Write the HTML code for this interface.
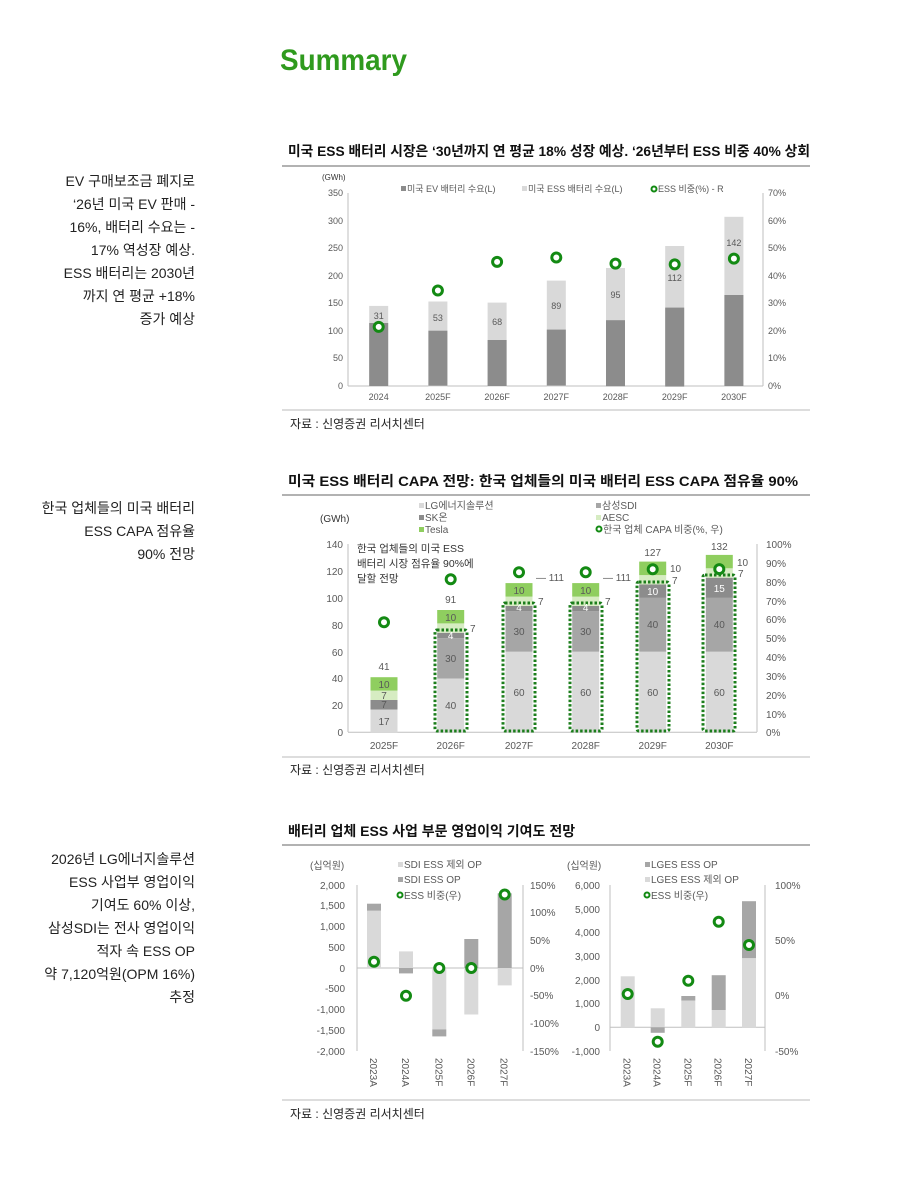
<!DOCTYPE html>
<html><head><meta charset="utf-8"><style>
body{margin:0;background:#fff}
svg{display:block;font-family:"Liberation Sans","Noto Sans CJK KR",sans-serif}
.t{font-size:10px;fill:#595959}
.s{font-size:9px;fill:#595959}
.side{font-size:14px;fill:#222;text-anchor:end}
.ttl{font-size:14px;font-weight:bold;fill:#111}
.src{font-size:12px;fill:#222}
.c{fill:#fff;stroke:#138a13;stroke-width:3}
.ax{stroke:#bfbfbf;stroke-width:1;fill:none}
</style></head><body>
<svg width="900" height="1185" viewBox="0 0 900 1185">
<text x="280" y="70" font-size="30" font-weight="bold" fill="#2f9a1e" textLength="127" lengthAdjust="spacingAndGlyphs">Summary</text>

<g class="side">
<text x="195" y="186">EV 구매보조금 폐지로</text>
<text x="195" y="209">‘26년 미국 EV 판매 -</text>
<text x="195" y="232">16%, 배터리 수요는 -</text>
<text x="195" y="255">17% 역성장 예상.</text>
<text x="195" y="278">ESS 배터리는 2030년</text>
<text x="195" y="301">까지 연 평균 +18%</text>
<text x="195" y="324">증가 예상</text>
<text x="195" y="513">한국 업체들의 미국 배터리</text>
<text x="195" y="536">ESS CAPA 점유율</text>
<text x="195" y="559">90% 전망</text>
<text x="195" y="864">2026년 LG에너지솔루션</text>
<text x="195" y="887">ESS 사업부 영업이익</text>
<text x="195" y="910">기여도 60% 이상,</text>
<text x="195" y="933">삼성SDI는 전사 영업이익</text>
<text x="195" y="956">적자 속 ESS OP</text>
<text x="195" y="979">약 7,120억원(OPM 16%)</text>
<text x="195" y="1002">추정</text>
</g>

<!-- Chart 1 -->
<text x="288" y="156" class="ttl" textLength="522" lengthAdjust="spacingAndGlyphs">미국 ESS 배터리 시장은 ‘30년까지 연 평균 18% 성장 예상. ‘26년부터 ESS 비중 40% 상회</text>
<line x1="282" y1="166" x2="810" y2="166" stroke="#999" stroke-width="1.5"/>
<text x="322" y="180" font-size="8" fill="#333">(GWh)</text>
<g class="s" text-anchor="end">
<text x="343" y="196">350</text><text x="343" y="224">300</text><text x="343" y="251">250</text><text x="343" y="279">200</text><text x="343" y="306">150</text><text x="343" y="334">100</text><text x="343" y="361">50</text><text x="343" y="389">0</text>
</g>
<g class="s">
<text x="768" y="196">70%</text><text x="768" y="224">60%</text><text x="768" y="251">50%</text><text x="768" y="279">40%</text><text x="768" y="306">30%</text><text x="768" y="334">20%</text><text x="768" y="361">10%</text><text x="768" y="389">0%</text>
</g>
<path class="ax" d="M348 193v193M348 386h415M763 193v193"/>
<g fill="#d9d9d9">
<rect x="369.2" y="305.9" width="19" height="80"/><rect x="428.4" y="301.5" width="19" height="85"/><rect x="487.6" y="302.6" width="19" height="84"/><rect x="546.8" y="280.6" width="19" height="106"/><rect x="606" y="268" width="19" height="118"/><rect x="665.2" y="246" width="19" height="140"/><rect x="724.4" y="216.8" width="19" height="170"/>
</g>
<g fill="#8c8c8c">
<rect x="369.2" y="323" width="19" height="63"/><rect x="428.4" y="330.7" width="19" height="55"/><rect x="487.6" y="340" width="19" height="46"/><rect x="546.8" y="329.6" width="19" height="56"/><rect x="606" y="320.2" width="19" height="66"/><rect x="665.2" y="307.6" width="19" height="79"/><rect x="724.4" y="295" width="19" height="91"/>
</g>
<g class="s" text-anchor="middle">
<text x="378.7" y="319">31</text><text x="437.9" y="321">53</text><text x="497.1" y="325">68</text><text x="556.3" y="309">89</text><text x="615.5" y="298">95</text><text x="674.7" y="281">112</text><text x="733.9" y="246">142</text>
<text x="378.7" y="400">2024</text><text x="437.9" y="400">2025F</text><text x="497.1" y="400">2026F</text><text x="556.3" y="400">2027F</text><text x="615.5" y="400">2028F</text><text x="674.7" y="400">2029F</text><text x="733.9" y="400">2030F</text>
</g>
<g>
<circle class="c" cx="378.7" cy="326.9" r="4.5"/><circle class="c" cx="437.9" cy="290.5" r="4.5"/><circle class="c" cx="497.1" cy="261.9" r="4.5"/><circle class="c" cx="556.3" cy="257.5" r="4.5"/><circle class="c" cx="615.5" cy="263.6" r="4.5"/><circle class="c" cx="674.7" cy="264.4" r="4.5"/><circle class="c" cx="733.9" cy="258.6" r="4.5"/>
</g>
<rect x="401" y="186" width="5" height="5" fill="#8c8c8c"/><text x="407" y="192" class="s">미국 EV 배터리 수요(L)</text>
<rect x="522" y="186" width="5" height="5" fill="#d9d9d9"/><text x="528" y="192" class="s">미국 ESS 배터리 수요(L)</text>
<circle class="c" cx="654" cy="189" r="2.5" style="stroke-width:2"/><text x="658" y="192" class="s">ESS 비중(%) - R</text>
<line x1="282" y1="410" x2="810" y2="410" stroke="#bbb"/>
<text x="290" y="428" class="src">자료 : 신영증권 리서치센터</text>

<!-- Chart 2 -->
<text x="288" y="486" class="ttl" textLength="510" lengthAdjust="spacingAndGlyphs">미국 ESS 배터리 CAPA 전망: 한국 업체들의 미국 배터리 ESS CAPA 점유율 90%</text>
<line x1="282" y1="495" x2="810" y2="495" stroke="#999" stroke-width="1.5"/>
<g class="t">
<rect x="419" y="503" width="5" height="5" fill="#d9d9d9"/><text x="425" y="509">LG에너지솔루션</text>
<rect x="419" y="515" width="5" height="5" fill="#8c8c8c"/><text x="425" y="521">SK온</text>
<rect x="419" y="527" width="5" height="5" fill="#8fce5f"/><text x="425" y="533">Tesla</text>
<rect x="596" y="503" width="5" height="5" fill="#a6a6a6"/><text x="602" y="509">삼성SDI</text>
<rect x="596" y="515" width="5" height="5" fill="#d6ecc2"/><text x="602" y="521">AESC</text>
<circle class="c" cx="599" cy="529" r="2.5" style="stroke-width:2"/><text x="603" y="533">한국 업체 CAPA 비중(%, 우)</text>
</g>
<text x="320" y="522" font-size="10" fill="#333">(GWh)</text>
<g class="t" text-anchor="end">
<text x="343" y="548">140</text><text x="343" y="575">120</text><text x="343" y="602">100</text><text x="343" y="629">80</text><text x="343" y="656">60</text><text x="343" y="682">40</text><text x="343" y="709">20</text><text x="343" y="736">0</text>
</g>
<g class="t">
<text x="766" y="548">100%</text><text x="766" y="567">90%</text><text x="766" y="586">80%</text><text x="766" y="605">70%</text><text x="766" y="623">60%</text><text x="766" y="642">50%</text><text x="766" y="661">40%</text><text x="766" y="680">30%</text><text x="766" y="699">20%</text><text x="766" y="718">10%</text><text x="766" y="736">0%</text>
</g>
<path class="ax" d="M348 544v188M348 732.3h409M757 544v188"/>
<g font-size="10.5" fill="#333"><text x="357" y="552">한국 업체들의 미국 ESS</text><text x="357" y="567">배터리 시장 점유율 90%에</text><text x="357" y="582">달할 전망</text></g>
<g>
<rect x="370.5" y="709.5" width="27" height="22.8" fill="#d9d9d9"/><rect x="370.5" y="700" width="27" height="9.5" fill="#8c8c8c"/><rect x="370.5" y="690.6" width="27" height="9.4" fill="#d6ecc2"/><rect x="370.5" y="677.2" width="27" height="13.4" fill="#8fce5f"/>
<rect x="437.2" y="678.5" width="27" height="53.8" fill="#d9d9d9"/><rect x="437.2" y="638.2" width="27" height="40.3" fill="#a6a6a6"/><rect x="437.2" y="632.8" width="27" height="5.4" fill="#8c8c8c"/><rect x="437.2" y="623.4" width="27" height="9.4" fill="#d6ecc2"/><rect x="437.2" y="610" width="27" height="13.4" fill="#8fce5f"/>
<rect x="505.5" y="651.7" width="27" height="80.6" fill="#d9d9d9"/><rect x="505.5" y="611.3" width="27" height="40.4" fill="#a6a6a6"/><rect x="505.5" y="606" width="27" height="5.3" fill="#8c8c8c"/><rect x="505.5" y="596.6" width="27" height="9.4" fill="#d6ecc2"/><rect x="505.5" y="583.1" width="27" height="13.5" fill="#8fce5f"/>
<rect x="572.2" y="651.7" width="27" height="80.6" fill="#d9d9d9"/><rect x="572.2" y="611.3" width="27" height="40.4" fill="#a6a6a6"/><rect x="572.2" y="606" width="27" height="5.3" fill="#8c8c8c"/><rect x="572.2" y="596.6" width="27" height="9.4" fill="#d6ecc2"/><rect x="572.2" y="583.1" width="27" height="13.5" fill="#8fce5f"/>
<rect x="639.2" y="651.7" width="27" height="80.6" fill="#d9d9d9"/><rect x="639.2" y="597.9" width="27" height="53.8" fill="#a6a6a6"/><rect x="639.2" y="584.5" width="27" height="13.4" fill="#8c8c8c"/><rect x="639.2" y="575.1" width="27" height="9.4" fill="#d6ecc2"/><rect x="639.2" y="561.6" width="27" height="13.5" fill="#8fce5f"/>
<rect x="705.8" y="651.7" width="27" height="80.6" fill="#d9d9d9"/><rect x="705.8" y="597.9" width="27" height="53.8" fill="#a6a6a6"/><rect x="705.8" y="577.7" width="27" height="20.2" fill="#8c8c8c"/><rect x="705.8" y="568.3" width="27" height="9.4" fill="#d6ecc2"/><rect x="705.8" y="554.9" width="27" height="13.4" fill="#8fce5f"/>
</g>
<g fill="none" stroke="#1b7d1b" stroke-width="3" stroke-dasharray="2.5 2">
<rect x="435" y="630" width="32" height="101" rx="2"/><rect x="503" y="603" width="32" height="128" rx="2"/><rect x="570" y="603" width="32" height="128" rx="2"/><rect x="637" y="582" width="32" height="149" rx="2"/><rect x="703" y="575" width="32" height="156" rx="2"/>
</g>
<g class="t" text-anchor="middle">
<text x="384" y="725">17</text><text x="384" y="708">7</text><text x="384" y="699">7</text><text x="384" y="688">10</text><text x="384" y="670">41</text>
<text x="450.7" y="709">40</text><text x="450.7" y="662">30</text><text x="450.7" y="639" fill="#fff">4</text><text x="450.7" y="621">10</text><text x="450.7" y="603">91</text>
<text x="519" y="696">60</text><text x="519" y="635">30</text><text x="519" y="611" fill="#fff">4</text><text x="519" y="594">10</text>
<text x="585.7" y="696">60</text><text x="585.7" y="635">30</text><text x="585.7" y="611" fill="#fff">4</text><text x="585.7" y="594">10</text>
<text x="652.7" y="696">60</text><text x="652.7" y="628">40</text><text x="652.7" y="595" fill="#fff">10</text><text x="652.7" y="556">127</text>
<text x="719.3" y="696">60</text><text x="719.3" y="628">40</text><text x="719.3" y="592" fill="#fff">15</text><text x="719.3" y="550">132</text>
<text x="384" y="749">2025F</text><text x="450.7" y="749">2026F</text><text x="519" y="749">2027F</text><text x="585.7" y="749">2028F</text><text x="652.7" y="749">2029F</text><text x="719.3" y="749">2030F</text>
</g>
<g class="t">
<text x="470" y="632">7</text><text x="538" y="605">7</text><text x="605" y="605">7</text><text x="672" y="584">7</text><text x="738" y="577">7</text>
<text x="536" y="581">— 111</text><text x="603" y="581">— 111</text><text x="670" y="572">10</text><text x="737" y="566">10</text>
</g>
<g>
<circle class="c" cx="384" cy="622.2" r="4.5"/><circle class="c" cx="450.7" cy="579.3" r="4.5"/><circle class="c" cx="519" cy="572.3" r="4.5"/><circle class="c" cx="585.7" cy="572.3" r="4.5"/><circle class="c" cx="652.7" cy="569.3" r="4.5"/><circle class="c" cx="719.3" cy="569.1" r="4.5"/>
</g>
<line x1="282" y1="757" x2="810" y2="757" stroke="#bbb"/>
<text x="290" y="774" class="src">자료 : 신영증권 리서치센터</text>

<!-- Chart 3 -->
<text x="288" y="836" class="ttl">배터리 업체 ESS 사업 부문 영업이익 기여도 전망</text>
<line x1="282" y1="845" x2="810" y2="845" stroke="#999" stroke-width="1.5"/>
<text x="310" y="869" class="t">(십억원)</text>
<text x="567" y="869" class="t">(십억원)</text>
<g class="t">
<rect x="398" y="862" width="5" height="5" fill="#d9d9d9"/><text x="404" y="868">SDI ESS 제외 OP</text>
<rect x="398" y="877" width="5" height="5" fill="#a6a6a6"/><text x="404" y="883">SDI ESS OP</text>
<circle class="c" cx="400" cy="895" r="2.5" style="stroke-width:2"/><text x="404" y="899">ESS 비중(우)</text>
<rect x="645" y="862" width="5" height="5" fill="#a6a6a6"/><text x="651" y="868">LGES ESS OP</text>
<rect x="645" y="877" width="5" height="5" fill="#d9d9d9"/><text x="651" y="883">LGES ESS 제외 OP</text>
<circle class="c" cx="647" cy="895" r="2.5" style="stroke-width:2"/><text x="651" y="899">ESS 비중(우)</text>
</g>
<g class="t" text-anchor="end">
<text x="345" y="889">2,000</text><text x="345" y="909">1,500</text><text x="345" y="930">1,000</text><text x="345" y="951">500</text><text x="345" y="972">0</text><text x="345" y="992">-500</text><text x="345" y="1013">-1,000</text><text x="345" y="1034">-1,500</text><text x="345" y="1055">-2,000</text>
<text x="600" y="889">6,000</text><text x="600" y="913">5,000</text><text x="600" y="936">4,000</text><text x="600" y="960">3,000</text><text x="600" y="984">2,000</text><text x="600" y="1007">1,000</text><text x="600" y="1031">0</text><text x="600" y="1055">-1,000</text>
</g>
<g class="t">
<text x="530" y="889">150%</text><text x="530" y="916">100%</text><text x="530" y="944">50%</text><text x="530" y="972">0%</text><text x="530" y="999">-50%</text><text x="530" y="1027">-100%</text><text x="530" y="1055">-150%</text>
<text x="775" y="889">100%</text><text x="775" y="944">50%</text><text x="775" y="999">0%</text><text x="775" y="1055">-50%</text>
</g>
<path class="ax" d="M357 885v166M357 968h166M523 885v166M610 885v166M610 1027.3h155M765 885v166"/>
<g>
<rect x="367" y="910.7" width="14" height="57.3" fill="#d9d9d9"/><rect x="367" y="903.7" width="14" height="7" fill="#a6a6a6"/>
<rect x="399" y="951.4" width="14" height="16.6" fill="#d9d9d9"/><rect x="399" y="968" width="14" height="5.4" fill="#a6a6a6"/>
<rect x="432.3" y="968" width="14" height="61.4" fill="#d9d9d9"/><rect x="432.3" y="1029.4" width="14" height="7" fill="#a6a6a6"/>
<rect x="464.3" y="968" width="14" height="46.5" fill="#d9d9d9"/><rect x="464.3" y="939" width="14" height="29" fill="#a6a6a6"/>
<rect x="497.7" y="968" width="14" height="17.4" fill="#d9d9d9"/><rect x="497.7" y="893.3" width="14" height="74.7" fill="#a6a6a6"/>
<rect x="620.7" y="976.3" width="14" height="51" fill="#d9d9d9"/>
<rect x="650.7" y="1008.3" width="14" height="19" fill="#d9d9d9"/><rect x="650.7" y="1027.3" width="14" height="5.5" fill="#a6a6a6"/>
<rect x="681.3" y="1000.5" width="14" height="26.8" fill="#d9d9d9"/><rect x="681.3" y="996" width="14" height="4.5" fill="#a6a6a6"/>
<rect x="711.7" y="1010" width="14" height="17.3" fill="#d9d9d9"/><rect x="711.7" y="975.2" width="14" height="34.8" fill="#a6a6a6"/>
<rect x="742" y="958.1" width="14" height="69.2" fill="#d9d9d9"/><rect x="742" y="901.2" width="14" height="56.9" fill="#a6a6a6"/>
</g>
<g>
<circle class="c" cx="374" cy="961.7" r="4.5"/><circle class="c" cx="406" cy="995.7" r="4.5"/><circle class="c" cx="439.3" cy="968" r="4.5"/><circle class="c" cx="471.3" cy="968" r="4.5"/><circle class="c" cx="504.7" cy="894.5" r="4.5"/>
<circle class="c" cx="627.7" cy="994" r="4.5"/><circle class="c" cx="657.7" cy="1041.7" r="4.5"/><circle class="c" cx="688.3" cy="980.7" r="4.5"/><circle class="c" cx="718.7" cy="921.7" r="4.5"/><circle class="c" cx="749" cy="945" r="4.5"/>
</g>
<g class="t">
<text transform="translate(370,1058) rotate(90)">2023A</text><text transform="translate(402,1058) rotate(90)">2024A</text><text transform="translate(435.3,1058) rotate(90)">2025F</text><text transform="translate(467.3,1058) rotate(90)">2026F</text><text transform="translate(500.7,1058) rotate(90)">2027F</text>
<text transform="translate(623.7,1058) rotate(90)">2023A</text><text transform="translate(653.7,1058) rotate(90)">2024A</text><text transform="translate(684.3,1058) rotate(90)">2025F</text><text transform="translate(714.7,1058) rotate(90)">2026F</text><text transform="translate(745,1058) rotate(90)">2027F</text>
</g>
<line x1="282" y1="1100" x2="810" y2="1100" stroke="#bbb"/>
<text x="290" y="1118" class="src">자료 : 신영증권 리서치센터</text>
</svg>
</body></html>
